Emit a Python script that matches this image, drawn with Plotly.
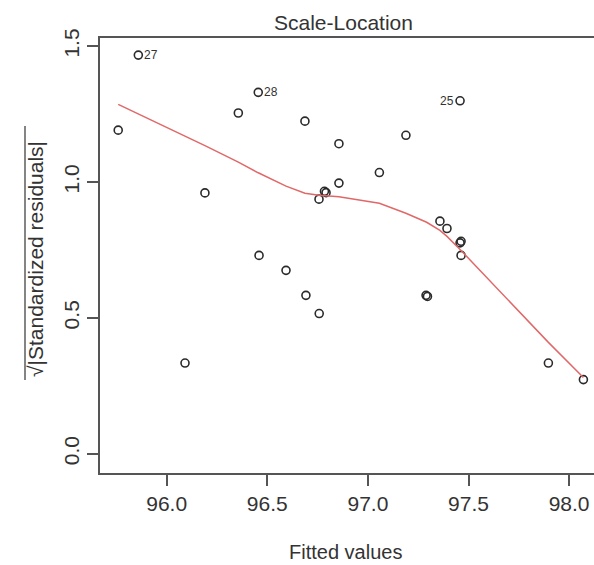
import plotly.graph_objects as go

# Data
fitted = [95.859, 96.455, 97.458, 96.356, 96.687, 95.759, 97.189, 96.856, 97.057,
          96.856, 96.190, 96.792, 96.784, 96.757, 97.358, 97.393, 97.463, 97.458,
          97.463, 96.459, 96.593, 96.692, 97.289, 97.296, 96.758, 96.091, 97.897, 98.071]
sqrt_std_resid = [1.467, 1.330, 1.299, 1.254, 1.224, 1.191, 1.172, 1.141, 1.035,
                  0.996, 0.960, 0.961, 0.966, 0.937, 0.856, 0.829, 0.782, 0.776,
                  0.730, 0.730, 0.675, 0.583, 0.583, 0.579, 0.516, 0.334, 0.334, 0.273]
point_labels = ["27", "28", "25"] + [""] * 25

smooth_x = [95.759, 95.859, 96.091, 96.190, 96.356, 96.455, 96.593, 96.687, 96.757,
            96.788, 96.856, 97.057, 97.189, 97.292, 97.358, 97.393, 97.463, 97.897, 98.071]
smooth_y = [1.286, 1.251, 1.169, 1.134, 1.073, 1.034, 0.985, 0.959, 0.951,
            0.950, 0.946, 0.922, 0.885, 0.852, 0.822, 0.800, 0.748, 0.410, 0.281]

x_ticks = [96.0, 96.5, 97.0, 97.5, 98.0]
x_tick_text = ["96.0", "96.5", "97.0", "97.5", "98.0"]
y_ticks = [0.0, 0.5, 1.0, 1.5]
y_tick_text = ["0.0", "0.5", "1.0", "1.5"]

FONT = "Liberation Sans, Arial, Helvetica, sans-serif"
TXT = "#333333"
AX = "#555555"

fig = go.Figure()
fig.add_trace(go.Scatter(
    x=fitted, y=sqrt_std_resid, mode="markers",
    marker=dict(symbol="circle-open", size=8, color="#2a2a2a", line=dict(width=1.6)),
    hoverinfo="x+y", showlegend=False))
fig.add_trace(go.Scatter(
    x=smooth_x, y=smooth_y, mode="lines",
    line=dict(color="#e06868", width=1.5), showlegend=False))

# point id labels
for xv, yv, lab in zip(fitted, sqrt_std_resid, point_labels):
    if lab:
        right = lab != "25"
        fig.add_annotation(x=xv, y=yv, text=lab, showarrow=False,
                           xanchor="left" if right else "right", yanchor="middle",
                           xshift=4 if right else -4,
                           font=dict(family=FONT, size=12, color=TXT))

PW = 494.0
PH = 435.0
fig.add_annotation(xref="paper", yref="paper", x=(343 - 100) / PW, y=(473 - 22) / PH,
                   text="Scale-Location", showarrow=False, xanchor="center", yanchor="middle",
                   font=dict(family=FONT, size=21, color=TXT))
fig.add_annotation(xref="paper", yref="paper", x=(345 - 100) / PW, y=(473 - 552) / PH,
                   text="Fitted values", showarrow=False, xanchor="center", yanchor="middle",
                   font=dict(family=FONT, size=20, color=TXT))
fig.add_annotation(xref="paper", yref="paper", x=(35 - 100) / PW, y=(473 - 259) / PH,
                   text="\u221a|Standardized residuals|", showarrow=False, textangle=-90,
                   xanchor="center", yanchor="middle",
                   font=dict(family=FONT, size=21, color=TXT))
# overline of the square root
fig.add_shape(type="line", xref="paper", yref="paper",
              x0=(25 - 100) / PW, x1=(25 - 100) / PW,
              y0=(473 - 380) / PH, y1=(473 - 126) / PH,
              line=dict(color=TXT, width=1.2))

fig.update_layout(
    width=594, height=565,
    margin=dict(l=100, r=0, t=38, b=92),
    paper_bgcolor="white", plot_bgcolor="white",
    font=dict(family=FONT, size=21, color=TXT),
    xaxis=dict(range=[95.6685, 98.1237], tickvals=x_ticks, ticktext=x_tick_text,
               showgrid=False, zeroline=False, showline=True, mirror=True,
               linecolor=AX, linewidth=1.5, ticks="outside", ticklen=11,
               tickcolor=AX, tickwidth=1.5, tickfont=dict(size=21, color=TXT)),
    yaxis=dict(range=[-0.0707, 1.530], tickvals=y_ticks, ticktext=y_tick_text,
               showgrid=False, zeroline=False, showline=True, mirror=False,
               linecolor=AX, linewidth=1.5, ticks="outside", ticklen=11,
               tickcolor=AX, tickwidth=1.5, tickangle=-90,
               tickfont=dict(size=21, color=TXT)),
)

fig.write_html("out.html")
